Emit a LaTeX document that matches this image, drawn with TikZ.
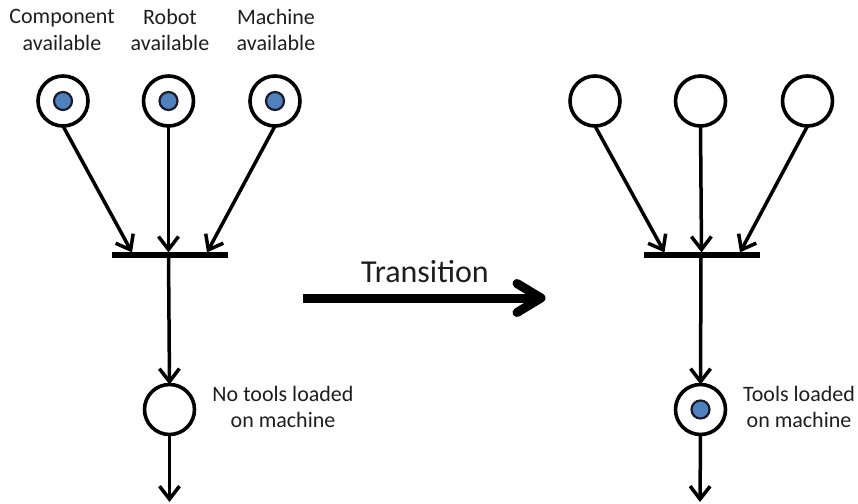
\documentclass[tikz,border=0pt]{standalone}
\usepackage{fontspec}
\setmainfont{Carlito}
\usetikzlibrary{arrows.meta}
\definecolor{tokenblue}{HTML}{4F81BD}
\definecolor{tokenedge}{HTML}{1A1A2A}
\definecolor{labeltext}{HTML}{1E1E1E}
\begin{document}
\begin{tikzpicture}[x=1pt, y=-1pt,
  place/.style={circle, draw=black, line width=3.6pt, fill=white, minimum size=50pt, inner sep=0pt, outer sep=0pt},
  token/.style={circle, draw=tokenedge, line width=2.2pt, fill=tokenblue, minimum size=18pt, inner sep=0pt},
  tbar/.style={rectangle, fill=black, minimum width=116pt, minimum height=5.2pt, inner sep=0pt, outer sep=0pt},
  flow/.style={line width=3.5pt, -{Straight Barb[length=13pt, width=20pt, line width=3.5pt]}},
  lbl/.style={text=labeltext, font=\fontsize{22}{26.5}\selectfont, align=center, inner sep=0pt}
]
\useasboundingbox (0,0) rectangle (858,503);

% ---------- state before firing ----------
\node[lbl] (lcomp) at (62,30) {Component\\available};
\node[lbl] (lrob)  at (170,30) {Robot\\available};
\node[lbl] (lmach) at (276,30) {Machine\\available};

\node[place] (a1) at (63,101) {};
\node[place] (a2) at (168.5,101) {};
\node[place] (a3) at (275,101) {};
\node[token] at (a1) {};
\node[token] at (a2) {};
\node[token] at (a3) {};

\node[tbar] (ta) at (170,255) {};
\coordinate (ta1) at (132,252.4);
\coordinate (ta2) at (168.5,252.4);
\coordinate (ta3) at (207,252.4);
\draw[flow] (a1.south) -- (ta1);
\draw[flow] (a2.south) -- (ta2);
\draw[flow] (a3.south) -- (ta3);

\node[place] (pa) at (169.5,409.5) {};
\draw[flow] (168.5,255) -- (pa.north);
\coordinate (outa) at (169.5,502);
\draw[flow] (pa.south) -- (outa);
\node[lbl] (lnotools) at (283,407) {No tools loaded\\on machine};

% ---------- transition arrow ----------
\coordinate (tr0) at (303,298);
\coordinate (tr1) at (538,298);
\coordinate (trtip) at (541,298);
\node[text=labeltext, font=\fontsize{32}{38}\selectfont, inner sep=0pt] (trl) at (425,272) {Transition};
\draw[line width=9pt] (tr0) -- (tr1);
\draw[line width=9pt, line cap=round, line join=round] (517,283.5) -- (trtip) -- (517,312.5);

% ---------- state after firing ----------
\node[place] (b1) at (595,101) {};
\node[place] (b2) at (700.5,101) {};
\node[place] (b3) at (807.5,101) {};

\node[tbar] (tb) at (702,255) {};
\coordinate (tb1) at (664.5,252.4);
\coordinate (tb2) at (701.5,252.4);
\coordinate (tb3) at (740,252.4);
\draw[flow] (b1.south) -- (tb1);
\draw[flow] (b2.south) -- (tb2);
\draw[flow] (b3.south) -- (tb3);

\node[place] (pb) at (700.5,409.5) {};
\node[token] at (pb) {};
\draw[flow] (701,255) -- (pb.north);
\coordinate (outb) at (700,502);
\draw[flow] (pb.south) -- (outb);
\node[lbl] (ltools) at (799,407) {Tools loaded\\on machine};
\end{tikzpicture}
\end{document}
